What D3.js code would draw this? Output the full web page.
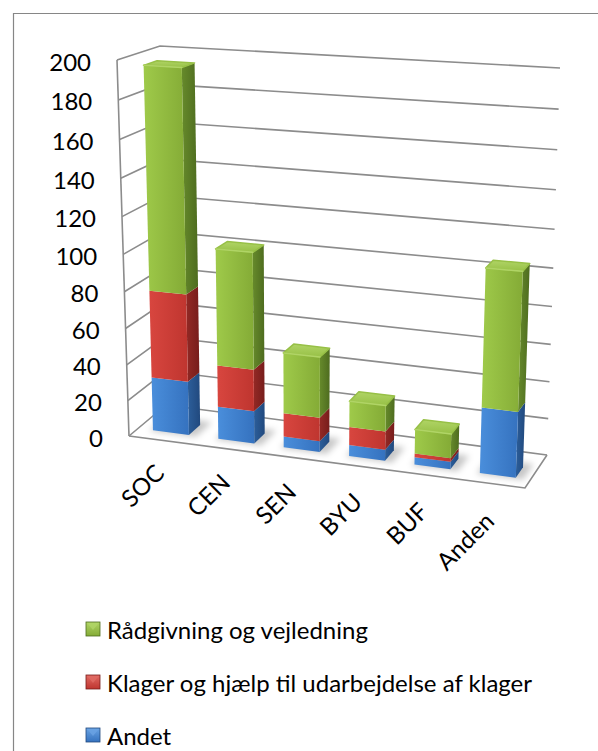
<!DOCTYPE html>
<html><head><meta charset="utf-8">
<script src="https://cdn.jsdelivr.net/npm/d3@7"></script>
<style>body{margin:0;background:#fff} svg{display:block}</style>
</head><body>
<svg id="c" width="598" height="751"></svg>
<script>
// ---------- data ----------
const categories = ["SOC", "CEN", "SEN", "BYU", "BUF", "Anden"];
const andet       = [30, 18, 6, 6, 4, 35];
const klager      = [48, 23, 13, 10, 2, 0];
const raadgivning = [118, 63, 33, 14, 13, 72];
const yTicks = [0, 20, 40, 60, 80, 100, 120, 140, 160, 180, 200];
const seriesKeys  = ["andet", "klager", "raadgivning"];
const legendNames = ["Rådgivning og vejledning", "Klager og hjælp til udarbejdelse af klager", "Andet"];
const legendKeys  = ["raadgivning", "klager", "andet"];

// ---------- projection (3D box corners on screen) ----------
const F = {L0:[129,436], L1:[117,60], R0:[525,488], R1:[540,84]};
const B = {L0:[166,405], L1:[160,46], R0:[547,455], R1:[560,68]};
const WARP = 0.934;
const Z0 = 0.25, Z1 = 0.57;

const xBand = d3.scaleBand().domain(categories).range([0, 1]).paddingInner(0.45).paddingOuter(0.225);
const yLin = d3.scaleLinear().domain([0, 200]).range([0, 1]);
const warp = t => WARP * t / (1 + (WARP - 1) * t);
const lerp = (a, b, t) => [a[0] + (b[0] - a[0]) * t, a[1] + (b[1] - a[1]) * t];
function plane(c, u, t) {
  return lerp(lerp(c.L0, c.R0, u), lerp(c.L1, c.R1, u), t);
}
function P(u, v, z) {
  const t = warp(yLin(v));
  return lerp(plane(F, u, t), plane(B, u, t), z);
}
const poly = pts => "M" + pts.map(p => p[0].toFixed(2) + "," + p[1].toFixed(2)).join("L") + "Z";

const svg = d3.select("#c");
const defs = svg.append("defs");

const palette = {
  raadgivning: {front:["#9fca4a","#84ab36"], side:["#668a2b","#4e6c1f"], top:["#b0d466","#97c046"]},
  klager:      {front:["#d8463f","#bf352f"], side:["#932925","#771d1b"], top:["#e06a63","#d04a44"]},
  andet:       {front:["#4a8edb","#3572bf"], side:["#2c5e9a","#21497e"], top:["#6aa3e3","#4a8bd6"]}
};
function grad(id, cols, vertical) {
  const g = defs.append("linearGradient").attr("id", id)
    .attr("x1", 0).attr("y1", 0).attr("x2", vertical ? 0 : 1).attr("y2", vertical ? 1 : 0);
  g.append("stop").attr("offset", 0).attr("stop-color", cols[0]);
  g.append("stop").attr("offset", 1).attr("stop-color", cols[1]);
}
Object.entries(palette).forEach(([k, p]) => {
  grad("f_" + k, p.front, false);
  grad("s_" + k, p.side, false);
  grad("t_" + k, p.top, true);
  grad("l_" + k, [p.top[0], p.front[1]], true);
});
defs.append("filter").attr("id", "blur").attr("x", "-50%").attr("y", "-50%").attr("width", "200%").attr("height", "200%")
  .append("feGaussianBlur").attr("stdDeviation", 3);

// ---------- frame ----------
svg.append("path").attr("d", "M13.5,751 L13.5,13.5 L598,13.5")
  .attr("fill", "none").attr("stroke", "#868686").attr("stroke-width", 1.2);

// ---------- walls & grid ----------
const grid = svg.append("g").attr("stroke", "#8c8c8c").attr("stroke-width", 1.6).attr("fill", "none");
yTicks.forEach(v => {
  grid.append("path").attr("d", "M" + P(0, v, 0) + "L" + P(0, v, 1) + "L" + P(1, v, 1));
});
grid.append("path").attr("d", "M" + P(0, 0, 0) + "L" + P(0, 200, 0));
grid.append("path").attr("d", "M" + P(0, 0, 0) + "L" + P(1, 0, 0) + "L" + P(1, 0, 1));

// ---------- y labels ----------
svg.append("g").selectAll("text").data(yTicks).join("text")
  .attr("x", v => P(0, v, 0)[0] - 26)
  .attr("y", v => P(0, v, 0)[1] + 1)
  .attr("text-anchor", "end").attr("dominant-baseline", "central")
  .attr("font-family", "Lato, 'Open Sans', sans-serif").attr("font-size", 24).attr("fill", "#000")
  .text(d => d);

// ---------- bars ----------
const table = categories.map((c, i) => ({cat: c, andet: andet[i], klager: klager[i], raadgivning: raadgivning[i]}));
const stacked = d3.stack().keys(seriesKeys)(table);
const bw = xBand.bandwidth();

const shadows = svg.append("g").attr("filter", "url(#blur)");
table.forEach(d => {
  const u0 = xBand(d.cat), u1 = u0 + bw;
  shadows.append("path")
    .attr("d", poly([P(u0 - 0.006, 0, Z0 - 0.03), P(u1 + 0.02, 0, Z0 - 0.03), P(u1 + 0.02, 0, Z1 + 0.12), P(u0 - 0.006, 0, Z1 + 0.12)]))
    .attr("fill", "#000").attr("opacity", 0.22);
});

const bars = svg.append("g");
table.forEach((d, i) => {
  const u0 = xBand(d.cat), u1 = u0 + bw;
  const segs = stacked.map(s => ({key: s.key, v0: s[i][0], v1: s[i][1]})).filter(s => s.v1 > s.v0);
  const g = bars.append("g").attr("stroke-linejoin", "round");
  segs.forEach((s, j) => {
    g.append("path").attr("d", poly([P(u1, s.v0, Z0), P(u1, s.v0, Z1), P(u1, s.v1, Z1), P(u1, s.v1, Z0)]))
      .attr("fill", "url(#s_" + s.key + ")");
    g.append("path").attr("d", poly([P(u0, s.v0, Z0), P(u1, s.v0, Z0), P(u1, s.v1, Z0), P(u0, s.v1, Z0)]))
      .attr("fill", "url(#f_" + s.key + ")");
    if (j === segs.length - 1) {
      g.append("path").attr("d", poly([P(u0, s.v1, Z0), P(u1, s.v1, Z0), P(u1, s.v1, Z1), P(u0, s.v1, Z1)]))
        .attr("fill", "url(#t_" + s.key + ")")
        .attr("stroke", palette[s.key].top[1]).attr("stroke-width", 1.5);
      g.append("path").attr("d", "M" + P(u0, s.v1, Z0) + "L" + P(u1, s.v1, Z0))
        .attr("stroke", palette[s.key].top[0]).attr("stroke-width", 1.5).attr("stroke-linecap", "round");
    }
  });
});

// ---------- x labels ----------
svg.append("g").selectAll("text").data(categories).join("text")
  .attr("transform", c => {
    const u = xBand(c) + bw / 2;
    const p = P(u, 0, 0);
    return "translate(" + (p[0] - 3) + "," + (p[1] + 27 + 6 * u) + ") rotate(-45)";
  })
  .attr("text-anchor", "end").attr("dominant-baseline", "central")
  .attr("font-family", "Lato, 'Open Sans', sans-serif").attr("font-size", 24).attr("fill", "#000")
  .text(d => d);

// ---------- legend ----------
const leg = svg.append("g");
const rowY = [629, 682, 735];
legendKeys.forEach((k, i) => {
  const y = rowY[i];
  leg.append("rect").attr("x", 86).attr("y", y - 7).attr("width", 14).attr("height", 14)
    .attr("fill", "url(#l_" + k + ")").attr("stroke", palette[k].side[1]).attr("stroke-width", 0.8);
  leg.append("path").attr("d", `M87,${y-6} L99,${y-6} L93,${y+1} Z`).attr("fill", palette[k].top[0]).attr("opacity", 0.8);
  leg.append("text").attr("x", 107).attr("y", y).attr("dominant-baseline", "central")
    .attr("font-family", "Lato, 'Open Sans', sans-serif").attr("font-size", 24).attr("fill", "#000")
    .text(legendNames[i]);
});
</script>
</body></html>
